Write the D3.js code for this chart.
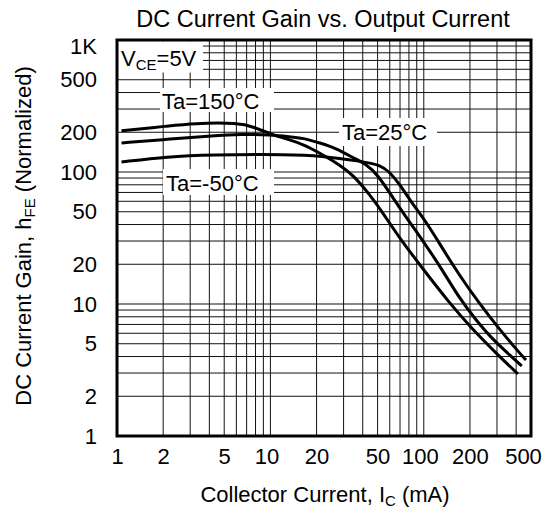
<!DOCTYPE html>
<html>
<head>
<meta charset="utf-8">
<script src="https://cdn.jsdelivr.net/npm/d3@7"></script>
<style>
body { margin: 0; background: #fff; }
text { font-family: "Liberation Sans", Arial, Helvetica, sans-serif; fill: #000; }
</style>
</head>
<body>
<svg id="chart" width="547" height="510"></svg>
<script>
const xTicks = [1, 2, 5, 10, 20, 50, 100, 200, 500];
const yTicks = [1, 2, 5, 10, 20, 50, 100, 200, 500, 1000];
const yTickLabels = ["1", "2", "5", "10", "20", "50", "100", "200", "500", "1K"];

// collector current (mA), normalized hFE
const ta150 = [[1.07, 205], [2.15, 223], [3.1, 234], [6.3, 236], [7.7, 220], [10.4, 191],
  [13.4, 175], [16.8, 160], [21, 139], [28.4, 113], [34.6, 95], [44.6, 67], [53.4, 50],
  [71, 30.5], [100, 18.1], [142, 10.7], [209, 6.35], [314, 3.97], [411, 2.95]];
const ta25 = [[1.07, 166], [2.15, 177], [4, 187], [6.6, 194], [10, 191], [13.4, 185], [16.3, 181],
  [21, 166], [27, 151], [34.6, 128], [42, 115], [50.3, 95], [63, 63.5], [79, 43.3], [99, 30],
  [130, 18.7], [170, 11.1], [219, 7.56], [283, 5.34], [382, 3.9], [435, 3.39]];
const taM50 = [[1.07, 119], [2.15, 131], [4, 135], [13.4, 136], [21, 133], [40, 120], [52, 113],
  [60, 100], [70, 80], [81, 61.4], [105, 41.1], [133, 26.1], [172, 16.3], [222, 10.7],
  [314, 6.35], [405, 4.48], [464, 3.76]];

const series = [ta150, ta25, taM50];

const svg = d3.select("#chart");
const plotL = 117, plotR = 531, plotT = 40, plotB = 436;

const x = d3.scaleLog().domain([1, 500]).range([plotL, plotR]);
const y = d3.scaleLog().domain([1, 1000]).range([plotB, plotT]);

// grid
const grid = svg.append("g");
grid.selectAll(".vx")
    .data(x.ticks())
    .enter().append("line")
    .attr("x1", d => x(d)).attr("x2", d => x(d))
    .attr("y1", plotT).attr("y2", plotB)
    .style("stroke", "#111").style("stroke-width", 1);
grid.selectAll(".hy")
    .data(y.ticks())
    .enter().append("line")
    .attr("y1", d => y(d)).attr("y2", d => y(d))
    .attr("x1", plotL).attr("x2", plotR)
    .style("stroke", "#111").style("stroke-width", 1);

// curves
const line = d3.line()
    .x(d => x(d[0]))
    .y(d => y(d[1]))
    .curve(d3.curveBasis);

svg.append("g").selectAll("path")
    .data(series)
    .enter().append("path")
    .attr("d", line)
    .style("fill", "none")
    .style("stroke", "#000")
    .style("stroke-width", 3)
    .style("stroke-linejoin", "round");

// boxed labels inside the plot
function boxLabel(bx, by, bw, bh, tx, ty, parts) {
    svg.append("rect")
        .attr("x", bx).attr("y", by).attr("width", bw).attr("height", bh)
        .style("fill", "#fff");
    const t = svg.append("text")
        .attr("x", tx).attr("y", ty)
        .style("font-size", "22px");
    parts.forEach(p => {
        const s = t.append("tspan").text(p.t);
        if (p.sub) s.style("font-size", "15px").attr("dy", 4);
        if (p.up) s.attr("dy", -4);
    });
}
boxLabel(118, 41.5, 85, 31, 121, 66, [{t: "V"}, {t: "CE", sub: true}, {t: "=5V", up: true}]);
boxLabel(160, 88, 114, 24, 162, 109, [{t: "Ta=150°C"}]);
boxLabel(339, 118, 98, 28, 342, 140, [{t: "Ta=25°C"}]);
boxLabel(163, 169, 111, 26, 166, 191, [{t: "Ta=-50°C"}]);

// frame
svg.append("rect")
    .attr("x", plotL).attr("y", plotT)
    .attr("width", plotR - plotL).attr("height", plotB - plotT)
    .style("fill", "none").style("stroke", "#000").style("stroke-width", 3);

// axes
const xAxis = svg.append("g")
    .attr("transform", `translate(0,${plotB})`)
    .call(d3.axisBottom(x).tickValues(xTicks).tickFormat(d => d).tickSize(0).tickPadding(12));
const yAxis = svg.append("g")
    .attr("transform", `translate(${plotL},0)`)
    .call(d3.axisLeft(y).tickValues(yTicks).tickFormat((d, i) => yTickLabels[i]).tickSize(0).tickPadding(20));
[xAxis, yAxis].forEach(a => {
    a.select(".domain").remove();
    a.selectAll("text").style("font-size", "22px").attr("font-family", null);
});
yAxis.selectAll(".tick").filter(d => d === 1000).select("text").attr("dy", "0.6em");
xAxis.selectAll(".tick").filter(d => d === 500).select("text").attr("dx", -8);
xAxis.selectAll(".tick").filter(d => d === 10).select("text").attr("dx", -4);
xAxis.selectAll(".tick").filter(d => d === 100).select("text").attr("dx", -4);

// titles
svg.append("text")
    .attr("x", 323).attr("y", 27)
    .attr("text-anchor", "middle")
    .style("font-size", "23.5px")
    .text("DC Current Gain vs. Output Current");

const xt = svg.append("text")
    .attr("x", 325).attr("y", 502)
    .attr("text-anchor", "middle")
    .style("font-size", "22px");
xt.append("tspan").text("Collector Current, I");
xt.append("tspan").text("C").style("font-size", "15px").attr("dy", 4);
xt.append("tspan").text(" (mA)").attr("dy", -4);

const yt = svg.append("text")
    .attr("transform", "translate(31,236) rotate(-90)")
    .attr("text-anchor", "middle")
    .style("font-size", "22px");
yt.append("tspan").text("DC Current Gain, h");
yt.append("tspan").text("FE").style("font-size", "15px").attr("dy", 4);
yt.append("tspan").text(" (Normalized)").attr("dy", -4);
</script>
</body>
</html>
